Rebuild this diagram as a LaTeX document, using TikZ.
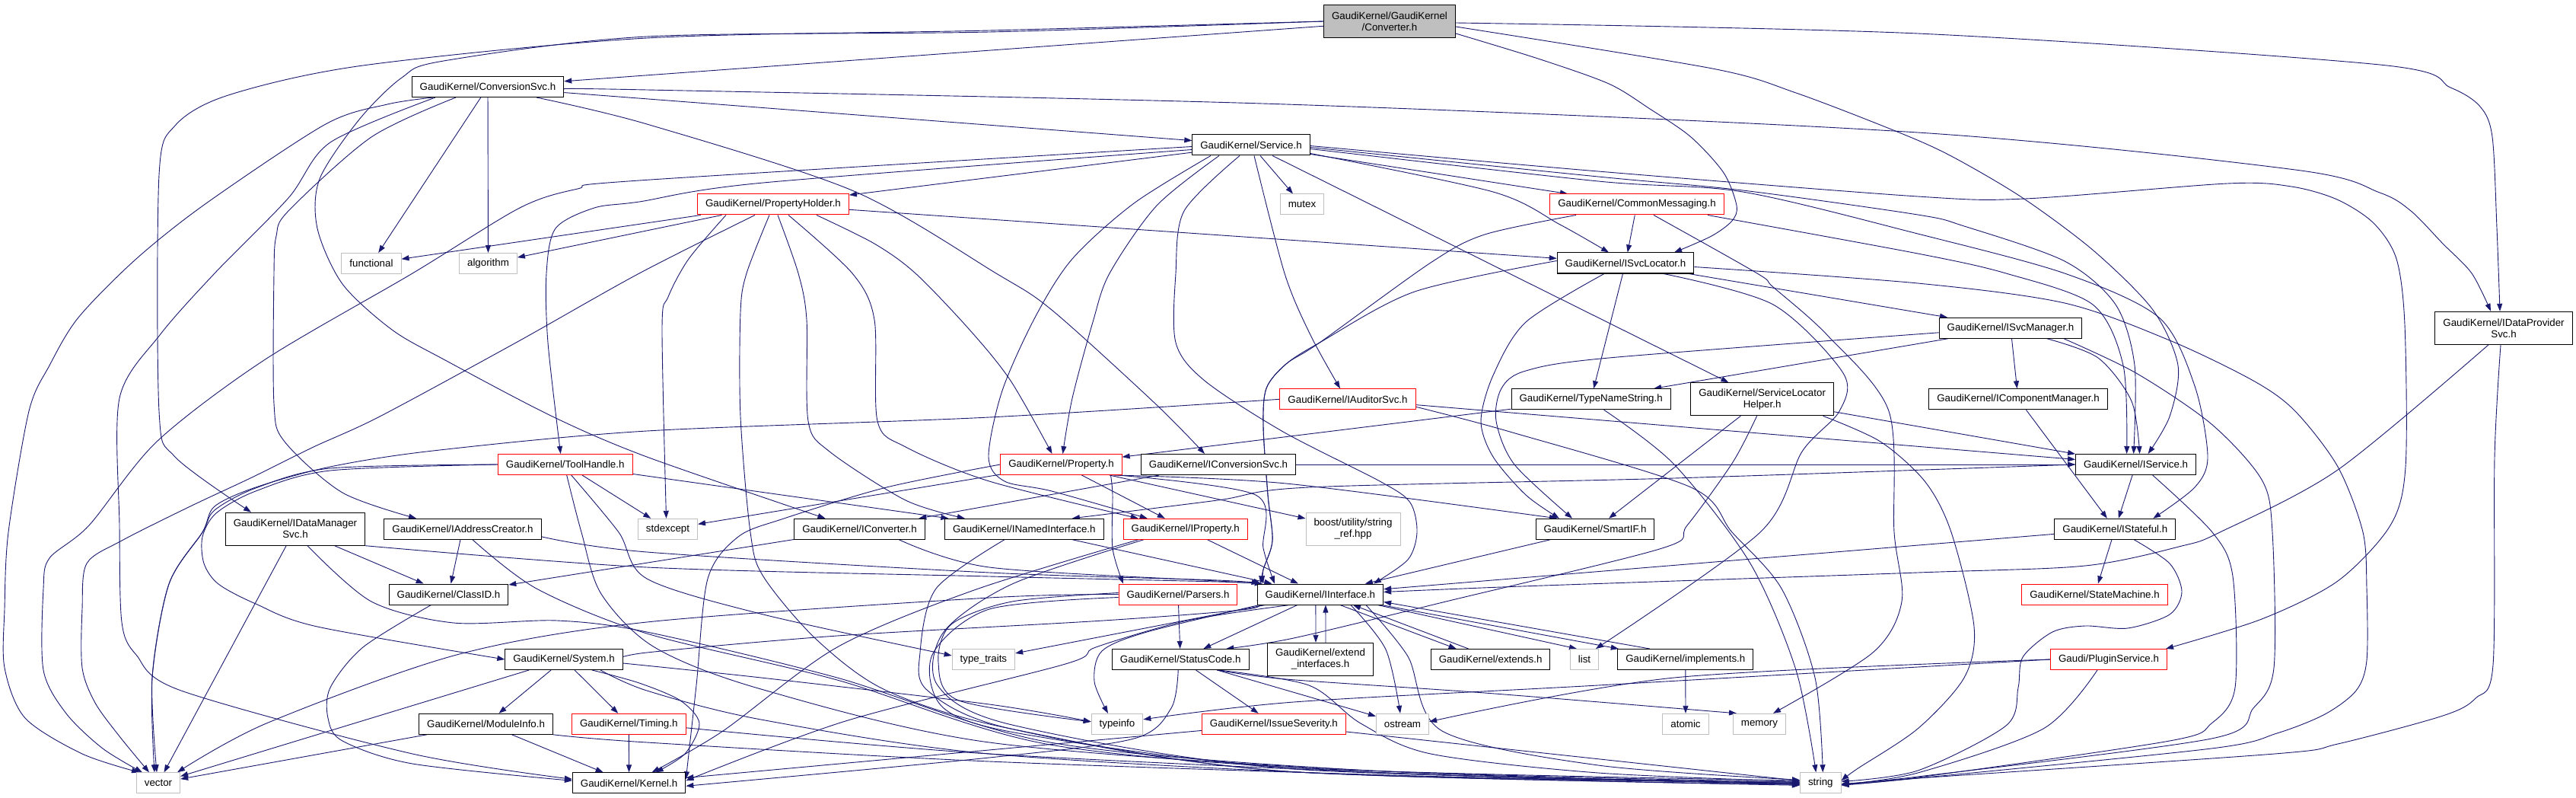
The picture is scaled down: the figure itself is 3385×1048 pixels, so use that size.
\documentclass[tikz,border=0pt]{standalone}
\usepackage{fontspec}
\setmainfont{Liberation Sans}
\usepackage{xcolor}
\usepackage{tikz}
\usetikzlibrary{arrows.meta, backgrounds}
\definecolor{edgeblue}{HTML}{191970}
\definecolor{sysgrey}{HTML}{BFBFBF}
\definecolor{truncred}{HTML}{FF0000}
\newcommand{\gfont}{\fontsize{13.33}{15}\selectfont}
\tikzset{hdr/.style={
          draw=black,
          fill=white,
          rectangle,
          line width=1pt,
          minimum height=27pt,
          inner xsep=10.5pt,
          inner ysep=0pt,
          align=center,
          font=\gfont
     }}
\tikzset{hdrred/.style={hdr, draw=truncred}}
\tikzset{hdrsys/.style={hdr, draw=sysgrey}}
\tikzset{hdrtop/.style={hdr, fill=sysgrey}}
\tikzset{tall/.style={minimum height=43pt}}
\tikzstyle{incl} = [edgeblue, line width=0.9pt, line join=round, -{Triangle[length=10pt,width=7pt]}]

\begin{document}
\begin{tikzpicture}[x=1pt, y=-1pt]
\useasboundingbox (0,0) rectangle (3385,1048);

\node (cvt) [hdrtop, tall] at (1826,28) {GaudiKernel/GaudiKernel\\/Converter.h};
\node (cnvSvc) [hdr] at (641,114) {GaudiKernel/ConversionSvc.h};
\node (svc) [hdr] at (1644,190.5) {GaudiKernel/Service.h};
\node (propHolder) [hdrred] at (1016,268.5) {GaudiKernel/PropertyHolder.h};
\node (mutex) [hdrsys] at (1711,268.5) {mutex};
\node (commonMsg) [hdrred] at (2151,268.5) {GaudiKernel/CommonMessaging.h};
\node (functional) [hdrsys] at (488,346) {functional};
\node (algorithm) [hdrsys] at (641.5,346) {algorithm};
\node (iSvcLocator) [hdr] at (2136,345.5) {GaudiKernel/ISvcLocator.h};
\node (iDataProv) [hdr, tall] at (3290,430.8) {GaudiKernel/IDataProvider\\Svc.h};
\node (iSvcMgr) [hdr] at (2642,430.8) {GaudiKernel/ISvcManager.h};
\node (auditor) [hdrred] at (1771,524.3) {GaudiKernel/IAuditorSvc.h};
\node (typeName) [hdr] at (2090.6,524.3) {GaudiKernel/TypeNameString.h};
\node (svcLocHelper) [hdr, tall] at (2315.6,524.3) {GaudiKernel/ServiceLocator\\Helper.h};
\node (iCompMgr) [hdr] at (2652,524.3) {GaudiKernel/IComponentManager.h};
\node (toolHandle) [hdrred] at (742.7,610) {GaudiKernel/ToolHandle.h};
\node (property) [hdrred] at (1394.5,610) {GaudiKernel/Property.h};
\node (iConvSvc) [hdr] at (1601,610) {GaudiKernel/IConversionSvc.h};
\node (iService) [hdr] at (2806.6,610) {GaudiKernel/IService.h};
\node (iDataMgr) [hdr, tall] at (388,694.7) {GaudiKernel/IDataManager\\Svc.h};
\node (iAddrCreator) [hdr] at (608,694.8) {GaudiKernel/IAddressCreator.h};
\node (stdexcept) [hdrsys] at (877.5,694.8) {stdexcept};
\node (iConverter) [hdr] at (1129.5,694.8) {GaudiKernel/IConverter.h};
\node (iNamed) [hdr] at (1345.8,694.8) {GaudiKernel/INamedInterface.h};
\node (iProperty) [hdrred] at (1557.7,694.8) {GaudiKernel/IProperty.h};
\node (boostRef) [hdrsys, tall] at (1778,694.7) {boost/utility/string\\\_ref.hpp};
\node (smartIF) [hdr] at (2096,694.8) {GaudiKernel/SmartIF.h};
\node (iStateful) [hdr] at (2779.3,694.8) {GaudiKernel/IStateful.h};
\node (classID) [hdr] at (589.5,780.5) {GaudiKernel/ClassID.h};
\node (parsers) [hdrred] at (1548,780.5) {GaudiKernel/Parsers.h};
\node (iInterface) [hdr] at (1734.9,780.5) {GaudiKernel/IInterface.h};
\node (stateMachine) [hdrred] at (2752.5,780.5) {GaudiKernel/StateMachine.h};
\node (system) [hdr] at (741,866) {GaudiKernel/System.h};
\node (typeTraits) [hdrsys] at (1292.4,866) {type\_traits};
\node (statusCode) [hdr] at (1551.2,866) {GaudiKernel/StatusCode.h};
\node (extendIf) [hdr, tall] at (1735,865.8) {GaudiKernel/extend\\\_interfaces.h};
\node (extends) [hdr] at (1958.6,866) {GaudiKernel/extends.h};
\node (list) [hdrsys] at (2082,866) {list};
\node (implements) [hdr] at (2214.8,866) {GaudiKernel/implements.h};
\node (pluginSvc) [hdrred] at (2771,866) {Gaudi/PluginService.h};
\node (moduleInfo) [hdr] at (638.6,950.8) {GaudiKernel/ModuleInfo.h};
\node (timing) [hdrred] at (826.3,950.8) {GaudiKernel/Timing.h};
\node (typeinfo) [hdrsys] at (1468,950.8) {typeinfo};
\node (issueSev) [hdrred] at (1673.9,950.8) {GaudiKernel/IssueSeverity.h};
\node (ostream) [hdrsys] at (1843,950.8) {ostream};
\node (atomic) [hdrsys] at (2215,950.8) {atomic};
\node (memory) [hdrsys] at (2312,950.8) {memory};
\node (vector) [hdrsys] at (208,1028.3) {vector};
\node (kernel) [hdr] at (826.6,1028.3) {GaudiKernel/Kernel.h};
\node (string) [hdrsys] at (2392.3,1028.3) {string};

\begin{scope}[on background layer]
\fill [white] (0,0) rectangle (3385,1048);
% Converter.h
\draw [incl] (cvt) -- (cnvSvc);
\draw [incl] plot [smooth] coordinates {(cvt.west) (1300,40) (850,50) (477,86) (300,125) (230,165) (209,230) (209,540) (230,600) ([xshift=-58pt]iDataMgr.north)};
\draw [incl] plot [smooth] coordinates {(cvt.west) (1300,42) (850,48) (583,80) (528,102) (472,157) (420,235) (417,300) (450,373) (515,433) (585,473) (726,547) (850,600) ([xshift=-45pt]iConverter.north)};
\draw [incl] plot [smooth] coordinates {([yshift=-2pt]cvt.east) (2520,44) (3127,85) (3220,115) (3259,140) (3275,180) (3281,300) ([xshift=-5pt]iDataProv.north)};
\draw [incl] plot [smooth] coordinates {([yshift=-7pt]cvt.east) (2250,90) (2360,122) (2493,173) (2564,205) (2658,260) (2752,330) (2829,407) (2862,480) (2851,547) ([xshift=16pt]iService.north)};
\draw [incl] plot [smooth] coordinates {([yshift=-16pt]cvt.east) (2021,77) (2114,110) (2168,143) (2222,180) (2265,227) (2282,270) (2276,290) (2249,310) ([xshift=64pt]iSvcLocator.north)};
% ConversionSvc.h
\draw [incl] (cnvSvc) -- (svc);
\draw [incl] plot [smooth] coordinates {([yshift=-3pt]cnvSvc.east) (850,118) (1690,137) (2520,174) (3016,223) (3127,253) (3168,277) (3210,320) (3248,359) ([xshift=-17pt]iDataProv.north)};
\draw [incl] plot [smooth] coordinates {([xshift=64pt]cnvSvc.south) (850,163) (1122,251) (1309,359) (1382,407) (1518,530) ([xshift=-18pt]iConvSvc.north)};
\draw [incl] plot [smooth] coordinates {([xshift=-42pt]cnvSvc.south) (488,180) (379,277) (363,310) (360,359) (360,530) (374,580) (450,647) ([xshift=-61pt]iAddrCreator.north)};
\draw [incl] plot [smooth] coordinates {([xshift=-72pt]cnvSvc.south) (509,137) (428,163) (271,267) (179,340) (103,417) (65,480) (38,540) (11,699) (6,800) (6,877) (33,943) (108,990) ([xshift=-25pt]vector.north)};
\draw [incl] plot [smooth] coordinates {([xshift=-69pt]cnvSvc.south) (434,187) (379,260) (282,359) (210,440) (157,523) (157,690) (160,817) (179,860) (238,907) (542,990) ([yshift=5pt]kernel.west)};
\draw [incl] (cnvSvc) -- (functional);
\draw [incl] (cnvSvc) -- (algorithm);
% Service.h
\draw [incl] (svc) -- (propHolder);
\draw [incl] (svc) -- (mutex);
\draw [incl] (svc) -- (commonMsg);
\draw [incl] plot [smooth] coordinates {([yshift=-11pt]svc.east) (1962,252) (2050,295) ([xshift=-22pt]iSvcLocator.north)};
\draw [incl] plot [smooth] coordinates {([yshift=-6pt]svc.west) (1003,240) (840,265) (781,273) (730,300) (718,359) (720,450) ([xshift=-6pt]toolHandle.north)};
\draw [incl] plot [smooth] coordinates {([yshift=-2pt]svc.west) (840,237) (759,248) (683,273) (542,359) (347,473) (206,580) (117,690) (65,733) (57,773) (57,880) (87,937) (135,983) ([xshift=-21pt]vector.north)};
\draw [incl] plot [smooth] coordinates {([xshift=4pt]svc.south) (1688,359) (1722,440) ([xshift=-10pt]auditor.north)};
\draw [incl] plot [smooth] coordinates {([xshift=-42pt]svc.south) (1520,270) (1458,359) (1436,423) (1409,523) ([xshift=2pt]property.north)};
\draw [incl] plot [smooth] coordinates {([xshift=-53pt]svc.south) (1490,267) (1409,340) (1360,417) (1317,513) (1299,600) (1320,632) (1382,645) ([xshift=-50pt]iProperty.north)};
\draw [incl] (svc) -- (svcLocHelper);
\draw [incl] plot [smooth] coordinates {([xshift=-15pt]svc.south) (1556,277) (1545,359) (1545,450) (1583,500) (1686,567) (1815,633) (1853,660) (1862,699) (1850,735) ([xshift=70pt]iInterface.north)};
\draw [incl] plot [smooth] coordinates {([yshift=-1pt]svc.east) (2100,225) (2520,258) (2661,261) (2927,241) (3011,245) (3071,262) (3119,293) (3149,340) (3160,427) (3161,613) (3141,690) (3072,763) (2972,813) ([xshift=75pt]pluginSvc.north)};
\draw [incl] plot [smooth] coordinates {([yshift=-3pt]svc.east) (2100,232) (2290,250) (2520,282) (2581,297) (2713,343) (2780,400) (2805,480) ([xshift=-3pt]iService.north)};
\draw [incl] plot [smooth] coordinates {([yshift=-5pt]svc.east) (2100,238) (2290,252) (2520,307) (2713,359) (2837,417) (2884,507) (2901,600) (2884,640) ([xshift=50pt]iStateful.north)};
% PropertyHolder.h
\draw [incl] (propHolder) -- (functional);
\draw [incl] (propHolder) -- (algorithm);
\draw [incl] (propHolder) -- (iSvcLocator);
\draw [incl] plot [smooth] coordinates {([xshift=57pt]propHolder.south) (1149,320) (1203,359) (1274,433) (1328,500) ([xshift=-12pt]property.north)};
\draw [incl] plot [smooth] coordinates {([xshift=20pt]propHolder.south) (1120,359) (1149,420) (1153,553) (1190,587) (1300,632) ([xshift=-62pt]iProperty.north)};
\draw [incl] plot [smooth] coordinates {([xshift=6pt]propHolder.south) (1049,359) (1060,420) (1062,553) (1090,593) (1190,657) ([xshift=-78pt]iNamed.north)};
\draw [incl] plot [smooth] coordinates {([xshift=-62pt]propHolder.south) (905,340) (878,390) (870,430) ([xshift=-2pt]stdexcept.north)};
\draw [incl] plot [smooth] coordinates {([xshift=-24pt]propHolder.south) (840,359) (678,450) (499,547) (412,587) (331,627) (250,665) (160,710) (114,740) (108,800) (108,877) (125,923) (157,967) ([xshift=-12pt]vector.north)};
\draw [incl] plot [smooth] coordinates {([xshift=-5pt]propHolder.south) (981,359) (973,410) (973,547) (986,699) (1003,757) (1073,840) (1165,907) (1328,957) (1690,1013) ([yshift=-2pt]string.west)};
% CommonMessaging.h
\draw [incl] (commonMsg) -- (iSvcLocator);
\draw [incl] plot [smooth] coordinates {([xshift=93pt]commonMsg.south) (2520,333) (2636,359) (2750,400) (2790,480) ([xshift=-12pt]iService.north)};
\draw [incl] plot [smooth] coordinates {([xshift=-80pt]commonMsg.south) (1951,308) (1880,345) (1734,450) (1690,478) (1664,510) (1660,560) (1666,650) (1672,710) (1660,748) ([xshift=8pt]iInterface.north west)};
\draw [incl] plot [smooth] coordinates {([xshift=22pt]commonMsg.south) (2309,359) (2330,377) (2401,440) (2482,540) (2489,699) (2499,790) (2461,857) ([xshift=18pt]memory.north)};
% ISvcLocator.h
\draw [incl] (iSvcLocator) -- (iSvcMgr);
\draw [incl] (iSvcLocator) -- (typeName);
\draw [incl] plot [smooth] coordinates {([xshift=-28pt]iSvcLocator.south) (2005,423) (1962,493) (1946,553) (1962,600) (2005,650) ([xshift=-47pt]smartIF.north)};
\draw [incl] plot [smooth] coordinates {([yshift=3pt]iSvcLocator.west) (1859,383) (1734,450) (1690,478) (1664,510) (1660,560) (1666,650) (1672,710) (1660,748) ([xshift=5pt]iInterface.north west)};
\draw [incl] plot [smooth] coordinates {([xshift=50pt]iSvcLocator.south) (2330,400) (2422,490) (2417,540) (2368,593) (2313,699) ([xshift=15pt]list.north)};
\draw [incl] plot [smooth] coordinates {([yshift=-5pt]iSvcLocator.east) (2520,372) (2713,398) (2851,447) (2961,500) (3016,540) (3072,613) (3105,699) (3110,773) (3110,867) (3096,907) (3055,938) (2992,963) (2906,983) (2520,1022) ([yshift=-3pt]string.east)};
% ISvcManager.h
\draw [incl] (iSvcMgr) -- (iCompMgr);
\draw [incl] plot [smooth] coordinates {([xshift=48pt]iSvcMgr.south) (2757,470) (2801,527) ([xshift=5pt]iService.north)};
\draw [incl] (iSvcMgr) -- (typeName);
\draw [incl] plot [smooth] coordinates {([yshift=-6pt]iSvcMgr.west) (2114,470) (2005,487) (1973,510) (1966,553) (1990,610) ([xshift=-30pt]smartIF.north)};
\draw [incl] plot [smooth] coordinates {([xshift=70pt]iSvcMgr.south) (2807,490) (2906,557) (2972,630) (2986,699) (2988,877) (2961,930) (2906,970) (2520,1020) ([yshift=-1pt]string.east)};
\draw [incl] (iCompMgr) -- (iStateful);
% IDataProviderSvc.h
\draw [incl] plot [smooth] coordinates {([xshift=-20pt]iDataProv.south) (3072,617) (2917,699) (2867,717) (2740,743) (2520,752) (2000,770) ([yshift=3pt]iInterface.east)};
\draw [incl] plot [smooth] coordinates {([xshift=-4pt]iDataProv.south) (3278,600) (3276,873) (3253,917) (3210,940) (3072,977) (2989,990) (2520,1022) ([yshift=-2pt]string.east)};
% ToolHandle.h
\draw [incl] (toolHandle) -- (stdexcept);
\draw [incl] (toolHandle) -- (iNamed);
\draw [incl] plot [smooth] coordinates {(toolHandle.west) (434,618) (336,645) (284,674) (266,705) (268,740) (287,767) (336,793) (417,823) (system.west)};
\draw [incl] plot [smooth] coordinates {(toolHandle.west) (434,615) (336,641) (282,670) (266,699) (222,767) (200,890) ([xshift=-5pt]vector.north)};
\draw [incl] plot [smooth] coordinates {([xshift=8pt]toolHandle.south) (813,699) (850,760) (1003,807) ([yshift=5pt]typeTraits.west)};
\draw [incl] plot [smooth] coordinates {([xshift=2pt]toolHandle.south) (764,699) (790,780) (860,850) (1000,905) (1300,975) (1800,1012) ([yshift=1pt]string.west)};
% IAuditorSvc.h
\draw [incl] (auditor) -- (iService);
\draw [incl] plot [smooth] coordinates {(auditor.west) (1300,548) (850,566) (569,592) (434,613) (336,640) (282,665) (266,699) (222,767) (200,890) ([xshift=-2pt]vector.north)};
\draw [incl] plot [smooth] coordinates {([yshift=-10pt]auditor.east) (1984,567) (2222,640) (2276,699) (2341,773) (2385,890) ([xshift=3pt]string.north)};
% TypeNameString.h, ServiceLocatorHelper.h
\draw [incl] (typeName) -- (property);
\draw [incl] plot [smooth] coordinates {([xshift=17pt]typeName.south) (2200,610) (2300,740) (2360,880) ([xshift=-6pt]string.north)};
\draw [incl] (svcLocHelper) -- (smartIF);
\draw [incl] (svcLocHelper) -- (iService);
\draw [incl] plot [smooth] coordinates {([xshift=-7pt]svcLocHelper.south) (2277,607) (2217,690) (2184,720) (1900,790) (1700,838) ([xshift=60pt]statusCode.north)};
\draw [incl] plot [smooth] coordinates {([xshift=80pt]svcLocHelper.south) (2471,580) (2530,633) (2564,699) (2594,823) (2581,890) (2520,957) (2440,1010) ([yshift=3pt]string.east)};
% Property.h
\draw [incl] (property) -- (stdexcept);
\draw [incl] (property) -- (iProperty);
\draw [incl] (property) -- (boostRef);
\draw [incl] plot [smooth] coordinates {([xshift=68pt]property.south) (1690,635) ([xshift=-50pt]smartIF.north)};
\draw [incl] plot [smooth] coordinates {([xshift=65pt]property.south) (1462,650) (1462,720) ([xshift=-72pt]parsers.north)};
\draw [incl] plot [smooth] coordinates {([xshift=74pt]property.south) (1650,650) (1660,720) ([xshift=-60pt]iInterface.north)};
\draw [incl] plot [smooth] coordinates {(property.west) (1165,640) (1030,681) (970,705) (930,760) (915,900) ([yshift=5pt]kernel.east)};
% IConversionSvc.h, IService.h
\draw [incl] (iConvSvc) -- (iConverter);
\draw [incl] (iConvSvc) -- (iService);
\draw [incl] (iService) -- (iStateful);
\draw [incl] plot [smooth] coordinates {(iService.west) (2200,628) (1720,640) (1600,657) ([xshift=63pt]iNamed.north)};
\draw [incl] plot [smooth] coordinates {([xshift=22pt]iService.south) (2907,699) (2934,757) (2937,903) (2906,950) (2851,973) (2520,1021) ([yshift=-2pt]string.east)};
% IDataManagerSvc.h, IAddressCreator.h, IConverter.h
\draw [incl] (iDataMgr) -- (vector);
\draw [incl] (iDataMgr) -- (classID);
\draw [incl] plot [smooth] coordinates {(iDataMgr.south east) (850,745) (1300,757) (1600,764) ([xshift=3pt]iInterface.north west)};
\draw [incl] plot [smooth] coordinates {([xshift=16pt]iDataMgr.south) (488,790) (596,818) (732,815) (850,830) (1100,890) (1380,975) (1800,1012) ([yshift=-2pt]string.west)};
\draw [incl] (iAddrCreator) -- (classID);
\draw [incl] plot [smooth] coordinates {([yshift=-10pt]iAddrCreator.east) (850,725) (1300,752) (1600,762) ([xshift=5pt]iInterface.north west)};
\draw [incl] plot [smooth] coordinates {([xshift=13pt]iAddrCreator.south) (705,773) (850,832) (1100,893) (1380,978) (1800,1014) ([yshift=-1pt]string.west)};
\draw [incl] plot [smooth] coordinates {([xshift=52pt]iConverter.south) (1300,745) (1600,763) ([xshift=7pt]iInterface.north west)};
\draw [incl] (iConverter) -- (classID);
% INamedInterface.h, IProperty.h, SmartIF.h, IStateful.h
\draw [incl] (iNamed) -- (iInterface);
\draw [incl] plot [smooth] coordinates {([xshift=-26pt]iNamed.south) (1230,773) (1209,857) (1219,907) (1328,957) (1690,1013) (string.west)};
\draw [incl] (iProperty) -- (iInterface);
\draw [incl] plot [smooth] coordinates {([xshift=-55pt]iProperty.south) (1330,767) (1240,830) (1232,900) (1330,952) (1700,1010) ([yshift=1pt]string.west)};
\draw [incl] plot [smooth] coordinates {([xshift=-62pt]iProperty.south) (1280,775) (1100,850) (950,960) ([xshift=30pt]kernel.north)};
\draw [incl] (smartIF) -- (iInterface);
\draw [incl] (iStateful) -- (iInterface);
\draw [incl] (iStateful) -- (stateMachine);
\draw [incl] plot [smooth] coordinates {([xshift=25pt]iStateful.south) (2851,740) (2867,777) (2851,807) (2796,825) (2740,822) (2697,830) (2658,863) (2652,903) (2636,953) (2520,1012) ([yshift=2pt]string.east)};
% ClassID.h, Parsers.h
\draw [incl] plot [smooth] coordinates {([xshift=-23pt]classID.south) (477,850) (434,903) (431,943) (450,973) (542,1003) ([yshift=3pt]kernel.west)};
\draw [incl] (parsers) -- (statusCode);
\draw [incl] plot [smooth] coordinates {(parsers.west) (1300,785) (850,817) (600,860) (350,950) ([xshift=25pt]vector.north)};
\draw [incl] plot [smooth] coordinates {([yshift=2pt]parsers.west) (1330,790) (1250,820) (1233,870) (1260,920) ([yshift=3pt]typeinfo.west)};
\draw [incl] plot [smooth] coordinates {([yshift=-4pt]parsers.west) (1300,800) (1225,860) (1240,930) (1350,965) (1700,1008) ([yshift=3pt]string.west)};
% IInterface.h
\draw [incl] plot [smooth] coordinates {([yshift=-8pt]iInterface.west) (1640,800) (1450,815) (1100,835) (850,857) (system.east)};
\draw [incl] (iInterface) -- (typeTraits);
\draw [incl] (iInterface) -- (statusCode);
\draw [incl] plot [smooth] coordinates {([xshift=-80pt]iInterface.south) (1507,830) (1448,855) (1438,895) ([xshift=-12pt]typeinfo.north)};
\draw [incl] plot [smooth] coordinates {([xshift=40pt]iInterface.south) (1821,853) ([xshift=-3pt]ostream.north)};
\draw [incl] ([xshift=-6pt]iInterface.south) -- ([xshift=-6pt]extendIf.north);
\draw [incl] ([xshift=7pt]extendIf.north) -- ([xshift=7pt]iInterface.south);
\draw [incl] ([xshift=26pt]iInterface.south) -- ([xshift=-45pt]extends.north);
\draw [incl] ([xshift=-29pt]extends.north) -- ([xshift=43pt]iInterface.south);
\draw [incl] ([xshift=-8pt]iInterface.south east) -- ([xshift=-10pt]list.north);
\draw [incl] ([xshift=-3pt]iInterface.south east) -- ([xshift=-88pt]implements.north);
\draw [incl] ([xshift=-47pt]implements.north) -- ([yshift=4pt]iInterface.south east);
\draw [incl] plot [smooth] coordinates {([xshift=-40pt]iInterface.south) (1560,815) (1440,850) (1400,872) (1111,947) ([yshift=3pt]kernel.east)};
\draw [incl] plot [smooth] coordinates {([xshift=60pt]iInterface.south) (1850,862) (1895,960) (2100,1005) ([yshift=4pt]string.west)};
\draw [incl] (implements) -- (atomic);
% System.h and below
\draw [incl] (system) -- (moduleInfo);
\draw [incl] (system) -- (timing);
\draw [incl] (system) -- (vector);
\draw [incl] plot [smooth] coordinates {([xshift=37pt]system.south) (840,897) (894,920) (919,950) (900,990) ([xshift=35pt]kernel.north)};
\draw [incl] plot [smooth] coordinates {([xshift=48pt]system.south) (850,907) (1000,945) (1300,990) (1800,1018) ([yshift=-3pt]string.west)};
\draw [incl] plot [smooth] coordinates {([yshift=-5pt]system.east) (1000,890) (1300,925) ([yshift=3pt]typeinfo.west)};
\draw [incl] (moduleInfo) -- (kernel);
\draw [incl] (moduleInfo) -- (vector);
\draw [incl] plot [smooth] coordinates {(moduleInfo.south east) (850,975) (1300,1000) (1900,1020) (string.west)};
\draw [incl] (timing) -- (kernel);
\draw [incl] plot [smooth] coordinates {([yshift=-5pt]timing.east) (1300,990) (1900,1018) ([yshift=-1pt]string.west)};
\draw [incl] (statusCode) -- (issueSev);
\draw [incl] (statusCode) -- (ostream);
\draw [incl] plot [smooth] coordinates {([xshift=48pt]statusCode.south) (1690,892) (1951,910) ([xshift=-30pt]memory.north)};
\draw [incl] plot [smooth] coordinates {([xshift=-3pt]statusCode.south) (1539,930) (1490,970) (1300,995) ([yshift=-4pt]kernel.east)};
\draw [incl] plot [smooth] coordinates {([xshift=50pt]statusCode.south) (1720,900) (1788,950) (1880,990) (2100,1015) ([yshift=2pt]string.west)};
\draw [incl] (issueSev) -- (kernel);
\draw [incl] (issueSev) -- (string);
\draw [incl] plot [smooth] coordinates {(pluginSvc.west) (2100,900) (1700,922) ([yshift=6pt]typeinfo.east)};
\draw [incl] plot [smooth] coordinates {(pluginSvc.west) (2200,890) ([yshift=3pt]ostream.east)};
\draw [incl] plot [smooth] coordinates {([xshift=-15pt]pluginSvc.south) (2685,957) (2520,1015) ([yshift=-2pt]string.east)};
\end{scope}
\end{tikzpicture}
\end{document}
